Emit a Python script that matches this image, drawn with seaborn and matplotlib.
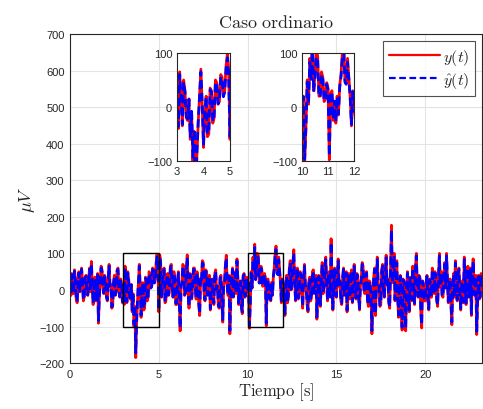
import numpy as np
import pandas as pd
import matplotlib
matplotlib.use("Agg")
import matplotlib.pyplot as plt
import seaborn as sns
from matplotlib.patches import Rectangle

y_meas = [
    20, -15, 45, 10, -10, 55, 30, -25, -35, 15, 50, -5, 5, 60, 25, -30, -20, 35, 40, -10,
    -15, 30, 60, -5, 78, 20, -40, 10, 35, -30, 0, 45, -91, -20, 30, 65, 55, 5, -10, 40,
    25, -20, -30, 35, 70, 10, 15, -50, -45, 20, 40, -15, -5, 55, 60, 0, -20, 30, 20, -35,
    10, -40, 65, 20, -35, 50, 30, -20, -25, 15, -60, -10, -100, -45, -185, -90, -30, 20, 70, 5,
    -75, -10, 20, -55, -50, 35, 30, -30, -20, 50, 45, 5, 10, 60, 55, 20, 30, 75, 98, 60,
    -60, 96, 80, -20, 10, 55, 60, -35, -30, 40, 45, -15, 0, 65, 70, 10, -20, 50, 30, -40,
    -40, 20, 50, -30, -112, 10, 20, 70, 65, -15, -10, 55, 96, 0, -50, 45, 40, -25, 5, 60,
    60, 10, -25, 50, 35, -40, -70, 30, 20, 80, 75, -10, -30, 55, 45, -15, 0, 40, -55, 25,
    30, -20, -40, 45, 55, 0, 10, -45, -50, 35, 40, -30, -88, 15, 20, 70, 95, 10, -15, 40,
    -120, -30, 30, 60, -20, 25, 50, -10, 85, 30, -40, 15, 25, -50, -65, 40, 45, -20, -10, 35,
    0, 20, -105, -40, 50, 5, 90, 55, 125, 30, 60, 100, 95, 20, 20, 65, 55, 10, 15, 45,
    35, -98, 25, 30, -25, 10, -30, 20, -15, 40, 60, 100, 120, 50, 45, 90, 55, 20, -35, 30,
    10, -20, -70, 20, 40, -35, -15, 60, 80, 0, 25, 75, 110, 20, -30, 40, 60, -25, -10, 50,
    45, 0, -50, 30, 70, 15, 5, -40, -60, 25, 35, -30, -20, 50, 55, -10, 0, 40, -80, -20,
    40, 5, -45, 35, 75, -10, 10, 60, 90, 20, -30, 45, 50, -20, 140, 30, -55, 15, 60, -15,
    -20, 40, 85, 10, 25, -30, -40, 35, 60, -15, 0, 50, -60, 5, 45, -25, 15, 55, -35, 20,
    70, 15, -25, 45, 40, -20, -55, 10, 30, 75, 65, 0, -10, 40, 50, -30, -45, 25, 20, -20,
    -120, -30, 35, 60, -70, 5, 90, 20, 10, -45, -40, 55, 70, 0, -20, 45, 95, 15, 30, -35,
    -50, 60, 177, 20, 60, 100, -30, 30, 80, -20, -75, 10, 40, -60, -110, 30, 25, -50, -112, 0,
    50, -15, -60, 35, 20, -30, 65, 15, -40, 60, 100, 10, -20, 40, 35, -55, -104, 25, 10, -30,
    -30, 20, 40, -25, -55, 30, 20, -20, 60, 15, -10, 50, 35, -30, -45, 40, 100, 10, 50, -15,
    -20, 40, 75, 5, 100, 30, -35, 20, 30, -40, -95, 10, 45, -20, 80, 35, -30, 50, 60, -10,
    -55, 15, 25, -35, 90, 30, -40, 45, 65, -20, 10, 60, -70, 20, 85, 0, -15, 40, -122, -30,
    40, -25, -20, 45, 30,
]

# Estimated signal y_hat(t)
y_est = [
    18, -13, 42, 11, -8, 51, 28, -22, -32, 14, 46, -4, 6, 56, 23, -27, -18, 32, 37, -8,
    -13, 28, 56, -3, 72, 19, -36, 11, 32, -27, 2, 41, -84, -17, 28, 60, 51, 6, -8, 37,
    23, -18, -27, 32, 65, 11, 14, -46, -41, 19, 37, -13, -3, 51, 56, 2, -18, 28, 19, -32,
    11, -36, 60, 19, -32, 46, 28, -18, -22, 14, -55, -8, -93, -41, -172, -83, -27, 19, 65, 6,
    -69, -8, 19, -50, -46, 32, 28, -27, -18, 46, 42, 6, 11, 56, 51, 19, 28, 70, 91, 55,
    -55, 89, 74, -18, 11, 51, 56, -32, -27, 37, 42, -13, 2, 60, 65, 11, -18, 46, 28, -36,
    -36, 19, 46, -27, -104, 11, 19, 65, 60, -13, -8, 51, 89, 2, -46, 42, 37, -22, 6, 56,
    56, 11, -22, 46, 32, -36, -65, 28, 19, 74, 70, -8, -27, 51, 42, -13, 2, 37, -51, 23,
    28, -18, -36, 42, 51, 2, 11, -41, -46, 32, 37, -27, -81, 14, 19, 65, 88, 11, -13, 37,
    -111, -27, 28, 56, -18, 23, 46, -8, 79, 28, -36, 14, 23, -46, -60, 37, 42, -18, -8, 32,
    2, 19, -97, -36, 46, 6, 83, 51, 116, 28, 56, 93, 88, 19, 19, 60, 51, 11, 14, 42,
    32, -91, 23, 28, -22, 11, -27, 19, -13, 37, 56, 93, 111, 46, 42, 83, 51, 19, -32, 28,
    11, -18, -65, 19, 37, -32, -13, 56, 74, 2, 23, 70, 102, 19, -27, 37, 56, -22, -8, 46,
    42, 2, -46, 28, 65, 14, 6, -36, -55, 23, 32, -27, -18, 46, 51, -8, 2, 37, -74, -18,
    37, 6, -41, 32, 70, -8, 11, 56, 83, 19, -27, 42, 46, -18, 130, 28, -51, 14, 56, -13,
    -18, 37, 79, 11, 23, -27, -36, 32, 56, -13, 2, 46, -55, 6, 42, -22, 14, 51, -32, 19,
    65, 14, -22, 42, 37, -18, -51, 11, 28, 70, 60, 2, -8, 37, 46, -27, -41, 23, 19, -18,
    -111, -27, 32, 56, -65, 6, 83, 19, 11, -41, -36, 51, 65, 2, -18, 42, 88, 14, 28, -32,
    -46, 56, 164, 19, 56, 93, -27, 28, 74, -18, -69, 11, 37, -55, -102, 28, 23, -46, -104, 2,
    46, -13, -55, 32, 19, -27, 60, 14, -36, 56, 93, 11, -18, 37, 32, -51, -96, 23, 11, -27,
    -27, 19, 37, -22, -51, 28, 19, -18, 56, 14, -8, 46, 32, -27, -41, 37, 93, 11, 46, -13,
    -18, 37, 70, 6, 93, 28, -32, 19, 28, -36, -88, 11, 42, -18, 74, 32, -27, 46, 56, -8,
    -51, 14, 23, -32, 83, 28, -36, 42, 60, -18, 11, 56, -65, 19, 79, 2, -13, 37, -113, -27,
    37, -22, -18, 42, 28,
]

t = np.round(np.arange(len(y_meas)) * 0.05, 2)
df = pd.DataFrame({"t": t, "y": y_meas, "yhat": y_est})

x_ticks = [0, 5, 10, 15, 20]
y_ticks = [-200, -100, 0, 100, 200, 300, 400, 500, 600, 700]
zooms = [(3, 5), (10, 12)]

sns.set_style("whitegrid")
plt.rcParams["mathtext.fontset"] = "cm"
plt.rcParams["font.family"] = ["Liberation Sans", "DejaVu Sans"]

fig = plt.figure(figsize=(4.83, 4.10), dpi=100)
ax = fig.add_axes([0.145, 0.112, 0.853, 0.8026])


def draw(a):
    sns.lineplot(data=df, x="t", y="y", ax=a, color="#ff0000", lw=2.0,
                 label=r"$y(t)$", legend=False)
    sns.lineplot(data=df, x="t", y="yhat", ax=a, color="#0000ff", lw=2.0,
                 linestyle=(0, (3.0, 1.6)), label=r"$\hat{y}(t)$", legend=False)


draw(ax)
ax.set_xlim(0, 23.2)
ax.set_ylim(-200, 700)
ax.set_xticks(x_ticks)
ax.set_yticks(y_ticks)
ax.tick_params(labelsize=8, direction="in", length=3, colors="#262626", pad=4)
ax.grid(True, color="#e3e3e3", lw=0.8)
for s in ax.spines.values():
    s.set_color("#262626")
    s.set_linewidth(0.8)
ax.set_title(r"$\mathrm{Caso\ ordinario}$", fontsize=13, pad=5)
ax.set_xlabel(r"$\mathrm{Tiempo\ [s]}$", fontsize=12, labelpad=1)
ax.set_ylabel(r"$\mu V$", fontsize=13, labelpad=2)

for x0, x1 in zooms:
    ax.add_patch(Rectangle((x0, -100), x1 - x0, 200, fill=False,
                           edgecolor="black", lw=1.0, zorder=5))

leg = ax.legend(loc="upper right", fontsize=11.5, frameon=True, fancybox=False,
                handlelength=3.2, borderpad=0.35, labelspacing=0.2,
                handletextpad=0.2, borderaxespad=0.45)
leg.get_frame().set_edgecolor("#262626")
leg.get_frame().set_linewidth(0.8)
for h in leg.get_lines():
    h.set_linewidth(1.6)

inset_pos = [[0.3665, 0.605, 0.1097, 0.2634], [0.6253, 0.605, 0.1077, 0.2634]]
for (x0, x1), pos in zip(zooms, inset_pos):
    ins = fig.add_axes(pos)
    draw(ins)
    ins.set_xlim(x0, x1)
    ins.set_ylim(-100, 100)
    ins.set_xticks([x0, (x0 + x1) // 2, x1])
    ins.set_yticks([-100, 0, 100])
    ins.grid(False)
    ins.set_facecolor("white")
    ins.set_xlabel("")
    ins.set_ylabel("")
    ins.tick_params(labelsize=8, direction="in", length=2, colors="#262626")
    for s in ins.spines.values():
        s.set_color("#262626")
        s.set_linewidth(0.8)

fig.savefig("out.png", dpi=100)
